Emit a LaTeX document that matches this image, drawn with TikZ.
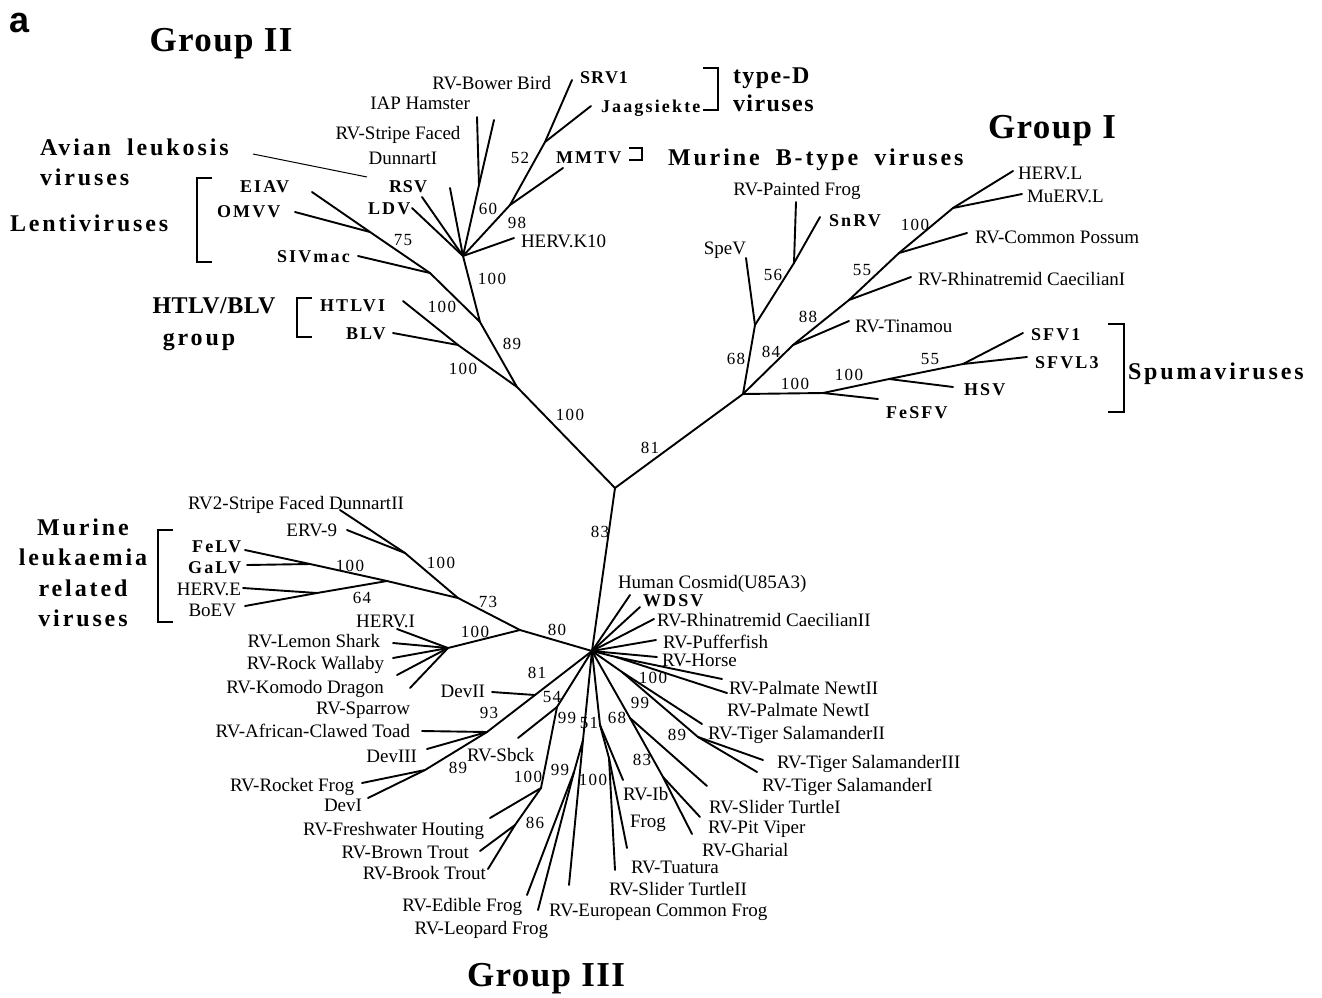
\documentclass[tikz,border=0pt]{standalone}
\usepackage{fontspec}
\setmainfont{Liberation Serif}
\newfontfamily\lsfam[LetterSpace=12]{Liberation Serif}
\newfontfamily\numfam[LetterSpace=8]{Liberation Serif}
\newfontfamily\catfam[LetterSpace=12]{Liberation Serif}
\newfontfamily\grpfam[LetterSpace=4]{Liberation Serif}
\newfontfamily\sansfam{Liberation Sans}
\tikzset{
 every node/.style={inner sep=0pt, outer sep=0pt},
 br/.style={line width=1.9pt, line cap=round, line join=round},
 thinline/.style={line width=1pt},
 brk/.style={line width=2.3pt, line join=miter},
 lab/.style={font=\fontsize{19}{21}\selectfont, yshift=-6.2pt},
 lw/.style={lab, anchor=base west},
 le/.style={lab, anchor=base east},
 lc/.style={lab, anchor=base},
 boldlab/.style={font=\lsfam\bfseries\fontsize{18}{20}\selectfont, yshift=-6pt},
 bw/.style={boldlab, anchor=base west},
 be/.style={boldlab, anchor=base east},
 num/.style={font=\numfam\fontsize{17}{19}\selectfont, anchor=base, yshift=-5.7pt},
 cat/.style={font=\catfam\bfseries\fontsize{24}{29}\selectfont, yshift=-8pt},
 catw/.style={cat, anchor=base west},
 catc/.style={cat, anchor=base},
 grp/.style={font=\grpfam\bfseries\fontsize{35}{40}\selectfont, anchor=base, yshift=-11.5pt},
}
\begin{document}
\begin{tikzpicture}[x=1pt,y=-1pt]
\useasboundingbox (0,0) rectangle (1322,997);
% ---------------- internal nodes ----------------
\coordinate (R) at (615,488);
\coordinate (G2) at (517,387);
\coordinate (G1) at (743,394);
\coordinate (S3) at (592,651);
% group II
\coordinate (hn) at (458,345);
\coordinate (n89) at (480,322);
\coordinate (len) at (430,273);
\coordinate (len2) at (370,232);
\coordinate (S2) at (463,256);
\coordinate (iap) at (479,185);
\coordinate (m60) at (510,205);
\coordinate (m52) at (545,142);
% group I
\coordinate (spe) at (755,325);
\coordinate (n56) at (794,263);
\coordinate (n84) at (793,345);
\coordinate (n88) at (849,300);
\coordinate (n55) at (899,253);
\coordinate (n100) at (953,208);
\coordinate (sp1) at (823,393);
\coordinate (sp2) at (889,379);
\coordinate (sp3) at (963,364);
% group III
\coordinate (n80) at (520,630);
\coordinate (n73) at (458,598);
\coordinate (dun) at (405,553);
\coordinate (mlv) at (387,581);
\coordinate (fg) at (310,564);
\coordinate (hb) at (317,593);
\coordinate (hi) at (448,648);
\coordinate (n81) at (535,695);
\coordinate (n93) at (487,732);
\coordinate (n89b) at (425,770);
\coordinate (n54) at (557,707);
\coordinate (n100c) at (541,788);
\coordinate (n86) at (515,825);
\coordinate (n99a) at (583,740);
\coordinate (n99b) at (574,772);
\coordinate (n51) at (600,725);
\coordinate (n100d) at (609,758);
\coordinate (n68) at (630,718);
\coordinate (n83) at (663,777);
\coordinate (nNewt) at (616,657);
\coordinate (n99r) at (622,672);
\coordinate (n89r) at (698,737);
% ---------------- leaf ends ----------------
% group II
\coordinate (htlvE) at (403,301);
\coordinate (blvE) at (393,333);
\coordinate (sivE) at (358,256);
\coordinate (eiavE) at (312,192);
\coordinate (omvvE) at (295,212);
\coordinate (rsvE) at (422,197);
\coordinate (ldvE) at (412,208);
\coordinate (dunE) at (450,188);
\coordinate (iapE) at (477,117);
\coordinate (bowE) at (494,120);
\coordinate (mmtvE) at (563,168);
\coordinate (srvE) at (572,80);
\coordinate (jaaE) at (591,106);
\coordinate (k10E) at (514,238);
% group I
\coordinate (speE) at (746,258);
\coordinate (pfE) at (796,202);
\coordinate (snE) at (820,217);
\coordinate (tinE) at (849,321);
\coordinate (rh1E) at (911,277);
\coordinate (cpE) at (967,233);
\coordinate (hlE) at (1013,171);
\coordinate (mulE) at (1022,194);
\coordinate (fesE) at (878,399);
\coordinate (hsvE) at (953,387);
\coordinate (sfv1E) at (1023,333);
\coordinate (sfvl3E) at (1027,357);
% group III
\coordinate (dun2E) at (340,510);
\coordinate (erv9E) at (347,530);
\coordinate (felvE) at (245,550);
\coordinate (galvE) at (247,565);
\coordinate (hereE) at (243,588);
\coordinate (boevE) at (245,606);
\coordinate (heriE) at (397,629);
\coordinate (lemE) at (393,643);
\coordinate (walE) at (393,658);
\coordinate (komE) at (397,675);
\coordinate (spaE) at (410,688);
\coordinate (dev2E) at (492,692);
\coordinate (toadE) at (422,731);
\coordinate (dev3E) at (427,749);
\coordinate (rocE) at (362,783);
\coordinate (dev1E) at (368,798);
\coordinate (sbE) at (518,738);
\coordinate (fwE) at (490,818);
\coordinate (btE) at (480,851);
\coordinate (bkE) at (488,869);
\coordinate (euE) at (569,885);
\coordinate (edE) at (527,895);
\coordinate (leE) at (538,910);
\coordinate (ibE) at (623,780);
\coordinate (tuE) at (627,848);
\coordinate (st2E) at (615,870);
\coordinate (st1E) at (707,786);
\coordinate (pvE) at (700,817);
\coordinate (ghE) at (692,834);
\coordinate (hcE) at (630,595);
\coordinate (wdE) at (640,607);
\coordinate (rh2E) at (654,619);
\coordinate (pfsE) at (656,640);
\coordinate (hoE) at (657,657);
\coordinate (nw2E) at (722,679);
\coordinate (nw1E) at (727,693);
\coordinate (ts2E) at (702,724);
\coordinate (ts3E) at (763,760);
\coordinate (ts1E) at (757,772);
% ---------------- branches ----------------
\draw[br] (R) -- (G2);
\draw[br] (R) -- (G1);
\draw[br] (R) -- (S3);
% group II
\draw[br] (G2) -- (hn) -- (htlvE);
\draw[br] (hn) -- (blvE);
\draw[br] (G2) -- (n89) -- (S2);
\draw[br] (n89) -- (len) -- (sivE);
\draw[br] (len) -- (len2) -- (eiavE);
\draw[br] (len2) -- (omvvE);
\draw[br] (S2) -- (rsvE);
\draw[br] (S2) -- (ldvE);
\draw[br] (S2) -- (dunE);
\draw[br] (S2) -- (iap) -- (iapE);
\draw[br] (iap) -- (bowE);
\draw[br] (S2) -- (m60) -- (mmtvE);
\draw[br] (m60) -- (m52) -- (srvE);
\draw[br] (m52) -- (jaaE);
\draw[br] (S2) -- (k10E);
% group I
\draw[br] (G1) -- (spe) -- (speE);
\draw[br] (spe) -- (n56) -- (pfE);
\draw[br] (n56) -- (snE);
\draw[br] (G1) -- (n84) -- (tinE);
\draw[br] (n84) -- (n88) -- (rh1E);
\draw[br] (n88) -- (n55) -- (cpE);
\draw[br] (n55) -- (n100) -- (hlE);
\draw[br] (n100) -- (mulE);
\draw[br] (G1) -- (sp1) -- (fesE);
\draw[br] (sp1) -- (sp2) -- (hsvE);
\draw[br] (sp2) -- (sp3) -- (sfv1E);
\draw[br] (sp3) -- (sfvl3E);
% group III
\draw[br] (S3) -- (n80) -- (n73) -- (dun) -- (dun2E);
\draw[br] (dun) -- (erv9E);
\draw[br] (n73) -- (mlv) -- (fg) -- (felvE);
\draw[br] (fg) -- (galvE);
\draw[br] (mlv) -- (hb) -- (hereE);
\draw[br] (hb) -- (boevE);
\draw[br] (n80) -- (hi) -- (heriE);
\draw[br] (hi) -- (lemE);
\draw[br] (hi) -- (walE);
\draw[br] (hi) -- (komE);
\draw[br] (hi) -- (spaE);
\draw[br] (S3) -- (n81) -- (n93) -- (n89b) -- (rocE);
\draw[br] (n89b) -- (dev1E);
\draw[br] (n81) -- (dev2E);
\draw[br] (n93) -- (toadE);
\draw[br] (n93) -- (dev3E);
\draw[br] (S3) -- (n54) -- (sbE);
\draw[br] (n54) -- (n100c) -- (fwE);
\draw[br] (n100c) -- (n86) -- (btE);
\draw[br] (n86) -- (bkE);
\draw[br] (S3) -- (n99a) -- (euE);
\draw[br] (n99a) -- (n99b) -- (edE);
\draw[br] (n99b) -- (leE);
\draw[br] (S3) -- (n51) -- (ibE);
\draw[br] (n51) -- (n100d) -- (tuE);
\draw[br] (n100d) -- (st2E);
\draw[br] (S3) -- (n68) -- (st1E);
\draw[br] (n68) -- (n83) -- (pvE);
\draw[br] (n83) -- (ghE);
\draw[br] (S3) -- (hcE);
\draw[br] (S3) -- (wdE);
\draw[br] (S3) -- (rh2E);
\draw[br] (S3) -- (pfsE);
\draw[br] (S3) -- (hoE);
\draw[br] (S3) -- (nNewt) -- (nw2E);
\draw[br] (nNewt) -- (nw1E);
\draw[br] (S3) -- (n99r) -- (ts2E);
\draw[br] (n99r) -- (n89r) -- (ts3E);
\draw[br] (n89r) -- (ts1E);
% ---------------- brackets ----------------
\draw[brk] (212,178) -- (197,178) -- (197,262) -- (212,262);
\draw[brk] (312,298) -- (297,298) -- (297,337) -- (312,337);
\draw[brk] (173,530) -- (158,530) -- (158,622) -- (173,622);
\draw[brk] (703,68) -- (718,68) -- (718,110) -- (703,110);
\draw[brk] (629,148) -- (642,148) -- (642,160) -- (629,160);
\draw[brk] (1108,324) -- (1124,324) -- (1124,412) -- (1108,412);
\coordinate (alvP1) at (253,154);
\coordinate (alvP2) at (367,177);
\draw[thinline] (alvP1) -- (alvP2);
% ---------------- titles ----------------
\node[font=\sansfam\bfseries\fontsize{36}{38}\selectfont, anchor=base, yshift=-10pt] (pa) at (20,22) {a};
\node[grp] (g2t) at (221,40) {Group II};
\node[grp] (g1t) at (1052,127) {Group I};
\node[grp] (g3t) at (546,975) {Group III};
\node[catw] (alv1) at (40,147) {Avian\hspace{0.3em} leukosis};
\node[catw] (alv2) at (40,177) {viruses};
\node[catw] (lenti) at (10,223) {Lentiviruses};
\node[catc] (htg1) at (214,305) {\addfontfeature{LetterSpace=2}HTLV/BLV};
\node[catc] (htg2) at (199,337) {group};
\node[catw] (td1) at (733,75) {\addfontfeature{LetterSpace=6}type-D};
\node[catw] (td2) at (733,103) {\addfontfeature{LetterSpace=6}viruses};
\node[catw] (mbt) at (668,157) {Murine\hspace{0.3em} B-type\hspace{0.3em} viruses};
\node[catw] (spu) at (1128,371) {Spumaviruses};
\node[catc] (ml1) at (83,527) {Murine};
\node[catc] (ml2) at (83,557) {leukaemia};
\node[catc] (ml3) at (83,588) {related};
\node[catc] (ml4) at (83,618) {viruses};
% ---------------- group II labels ----------------
\node[le] (tBow) at (551,83) {RV-Bower Bird};
\node[bw] (tSRV) at (580,77) {S\kern1pt R\kern1pt V\kern1pt 1};
\node[bw] (tJaa) at (601,106) {Jaagsiekte};
\node[le] (tIAP) at (470,103) {IAP Hamster};
\node[lc] (tSF1) at (398,133) {RV-Stripe Faced};
\node[lc] (tSF2) at (403,158) {DunnartI};
\node[bw] (tRSV) at (389,186) {R\kern1pt S\kern1pt V};
\node[bw] (tLDV) at (368,208) {LDV};
\node[bw] (tMMTV) at (556,157) {MMTV};
\node[lw] (tK10) at (521,241) {HERV.K10};
\node[bw] (tEIAV) at (240,186) {EIAV};
\node[bw] (tOMVV) at (217,211) {OMVV};
\node[bw] (tSIV) at (277,256) {SIVmac};
\node[bw] (tHTLV) at (320,305) {HTLVI};
\node[bw] (tBLV) at (346,333) {BLV};
\node[num] (b52) at (520,158) {52};
\node[num] (b60) at (488,209) {60};
\node[num] (b98) at (517,223) {98};
\node[num] (b100a) at (492,279) {100};
\node[num] (b75) at (403,240) {75};
\node[num] (b100b) at (442,307) {100};
\node[num] (b89) at (512,344) {89};
\node[num] (b100c) at (463,369) {100};
\node[num] (b100d) at (570,415) {100};
\node[num] (b81) at (650,448) {81};
\node[num] (b83) at (600,532) {83};
% ---------------- group I labels ----------------
\node[lw] (tHL) at (1018,173) {HERV.L};
\node[lw] (tMuL) at (1027,196) {MuERV.L};
\node[lw] (tCP) at (975,237) {RV-Common Possum};
\node[lw] (tRh1) at (918,279) {RV-Rhinatremid CaecilianI};
\node[lw] (tTin) at (855,326) {RV-Tinamou};
\node[lc] (tSpe) at (725,248) {SpeV};
\node[lc] (tPF) at (797,189) {RV-Painted Frog};
\node[bw] (tSn) at (829,220) {SnRV};
\node[bw] (tSFV1) at (1031,334) {SFV1};
\node[bw] (tSFVL3) at (1035,362) {SFVL3};
\node[bw] (tHSV) at (964,389) {HSV};
\node[bw] (tFeS) at (886,412) {FeSFV};
\node[num] (c100a) at (915,225) {100};
\node[num] (c55a) at (862,270) {55};
\node[num] (c88) at (808,317) {88};
\node[num] (c84) at (771,352) {84};
\node[num] (c68) at (736,359) {68};
\node[num] (c56) at (773,275) {56};
\node[num] (c100b) at (795,384) {100};
\node[num] (c100c) at (849,375) {100};
\node[num] (c55b) at (930,359) {55};
% ---------------- group III labels ----------------
\node[lc] (uDun) at (296,503) {RV2-Stripe Faced DunnartII};
\node[le] (uERV) at (337,530) {ERV-9};
\node[be] (uFeLV) at (241,546) {FeLV};
\node[be] (uGaLV) at (241,567) {GaLV};
\node[le] (uHERE) at (241,589) {HERV.E};
\node[le] (uBoEV) at (236,610) {BoEV};
\node[le] (uHERI) at (415,621) {HERV.I};
\node[le] (uLem) at (380,641) {RV-Lemon Shark};
\node[le] (uWal) at (384,663) {RV-Rock Wallaby};
\node[le] (uKom) at (384,687) {RV-Komodo Dragon};
\node[le] (uSpa) at (410,708) {RV-Sparrow};
\node[le] (uToad) at (410,731) {RV-African-Clawed Toad};
\node[le] (uDev2) at (485,691) {DevII};
\node[le] (uDev3) at (417,756) {DevIII};
\node[le] (uRoc) at (354,785) {RV-Rocket Frog};
\node[lc] (uDev1) at (343,805) {DevI};
\node[le] (uFw) at (484,829) {RV-Freshwater Houting};
\node[le] (uBt) at (469,852) {RV-Brown Trout};
\node[le] (uBk) at (486,873) {RV-Brook Trout};
\node[le] (uEd) at (522,905) {RV-Edible Frog};
\node[le] (uLe) at (548,928) {RV-Leopard Frog};
\node[lw] (uEu) at (549,910) {RV-European Common Frog};
\node[lw] (uSt2) at (609,889) {RV-Slider TurtleII};
\node[lw] (uTu) at (631,867) {RV-Tuatura};
\node[lw] (uGh) at (702,850) {RV-Gharial};
\node[lw] (uPv) at (708,827) {RV-Pit Viper};
\node[lw] (uSt1) at (709,807) {RV-Slider TurtleI};
\node[lw] (uTs1) at (762,785) {RV-Tiger SalamanderI};
\node[lw] (uTs3) at (777,762) {RV-Tiger SalamanderIII};
\node[lw] (uTs2) at (708,733) {RV-Tiger SalamanderII};
\node[lw] (uNw1) at (727,710) {RV-Palmate NewtI};
\node[lw] (uNw2) at (729,688) {RV-Palmate NewtII};
\node[lw] (uHo) at (662,660) {RV-Horse};
\node[lw] (uPfs) at (663,642) {RV-Pufferfish};
\node[lw] (uRh2) at (657,620) {RV-Rhinatremid CaecilianII};
\node[bw] (uWD) at (643,600) {WDSV};
\node[lw] (uHC) at (618,582) {Human Cosmid(U85A3)};
\node[lw] (uSb) at (467,755) {RV-Sbck};
\node[lw] (uIb) at (623,794) {RV-Ib};
\node[lw] (uIbF) at (630,821) {Frog};
\node[num] (d100a) at (441,563) {100};
\node[num] (d100b) at (350,566) {100};
\node[num] (d64) at (362,598) {64};
\node[num] (d73) at (488,602) {73};
\node[num] (d100c) at (475,632) {100};
\node[num] (d80) at (557,630) {80};
\node[num] (d81) at (537,673) {81};
\node[num] (d54) at (552,697) {54};
\node[num] (d93) at (489,713) {93};
\node[num] (d89) at (458,768) {89};
\node[num] (d99a) at (567,718) {99};
\node[num] (d51) at (589,723) {51};
\node[num] (d68) at (617,718) {68};
\node[num] (d100d) at (653,678) {100};
\node[num] (d99b) at (640,703) {99};
\node[num] (d89b) at (677,735) {89};
\node[num] (d83) at (642,760) {83};
\node[num] (d100e) at (528,777) {100};
\node[num] (d99c) at (560,770) {99};
\node[num] (d100f) at (593,780) {100};
\node[num] (d86) at (535,823) {86};
\end{tikzpicture}
\end{document}
